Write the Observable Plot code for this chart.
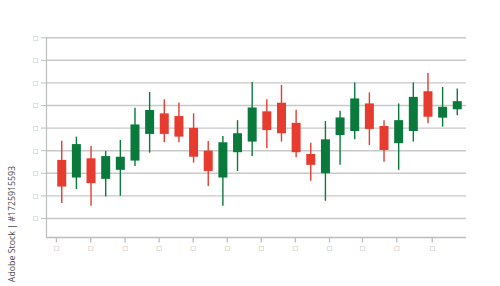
<!DOCTYPE html>
<html>
<head>
<meta charset="utf-8">
<script src="https://cdn.jsdelivr.net/npm/d3@7"></script>
<script src="https://cdn.jsdelivr.net/npm/@observablehq/plot@0.6"></script>
<style>
  html, body { margin: 0; padding: 0; background: #fff; }
  #wrap { position: relative; width: 500px; height: 286px; overflow: hidden; }
  #wm { position: absolute; left: 12px; top: 224px; transform: translate(-50%, -50%) rotate(-90deg);
        font-family: "Open Sans", "DejaVu Sans", sans-serif; font-size: 8.8px; color: #4a4a4a; white-space: nowrap; line-height: 11px; }
</style>
</head>
<body>
<div id="wrap"><div id="chart"></div><div id="wm">Adobe Stock | #1725915593</div></div>
<script>
// Candle values (index = session)
const opens  = [3.57, 2.79, 3.64, 2.73, 3.13, 3.54, 4.72, 5.63, 5.51, 4.99, 3.98, 2.79, 3.91, 4.38, 5.72, 6.10, 5.21, 3.83, 2.98, 4.67, 4.85, 6.07, 5.07, 4.31, 4.85, 6.61, 5.44, 5.81];
const closes = [2.39, 4.27, 2.54, 3.74, 3.71, 5.14, 5.78, 4.72, 4.60, 3.71, 3.08, 4.35, 4.75, 5.89, 4.89, 4.75, 3.91, 3.35, 4.48, 5.45, 6.29, 4.94, 4.01, 5.33, 6.36, 5.48, 5.92, 6.17];
const highs  = [4.42, 4.60, 4.19, 3.97, 4.45, 5.88, 6.58, 6.25, 6.11, 5.63, 4.41, 4.63, 5.33, 7.02, 6.26, 6.89, 5.79, 4.33, 5.29, 5.74, 7.00, 6.56, 5.33, 6.07, 7.00, 7.42, 6.80, 6.73];
const lows   = [1.66, 2.28, 1.54, 1.95, 1.98, 3.30, 3.89, 4.35, 4.35, 3.45, 2.42, 1.54, 3.08, 3.74, 4.08, 4.38, 3.69, 2.65, 1.76, 3.35, 4.48, 4.23, 3.49, 3.13, 4.38, 5.19, 5.04, 5.55];

const yTicks = [1, 2, 3, 4, 5, 6, 7, 8, 9];
const yTickLabels = ["□", "□", "□", "□", "□", "□", "□", "□", "□"];
const xTicks = [-0.36, 1.98, 4.32, 6.65, 8.97, 11.3, 13.62, 15.95, 18.28, 20.53, 22.87, 25.29];
const xTickLabels = ["□", "□", "□", "□", "□", "□", "□", "□", "□", "□", "□", "□"];

const candles = opens.map((o, i) => ({i, open: o, close: closes[i], high: highs[i], low: lows[i]}));
const up = "#0a7a3c", down = "#e63b2f";
const col = d => d.close >= d.open ? up : down;
const yMin = 0.157, xMin = -1.04;

const chart = Plot.plot({
  width: 500,
  height: 286,
  marginTop: 37,
  marginBottom: 49,
  marginLeft: 46,
  marginRight: 34,
  style: {background: "#fff", fontFamily: "DejaVu Sans, sans-serif"},
  x: {type: "linear", domain: [xMin, 27.63]},
  y: {domain: [yMin, 9.01]},
  marks: [
    Plot.gridY(yTicks, {stroke: "#c8c8c8", strokeOpacity: 1, strokeWidth: 1.4}),
    Plot.axisY(yTicks, {tickSize: 5, tickPadding: 3, fontSize: 6, fill: "#9a9a9a", stroke: "#c0c0c0",
      tickFormat: (d, i) => yTickLabels[i], label: null}),
    Plot.axisX(xTicks, {tickSize: 5.5, tickPadding: 3, fontSize: 6, fill: "#9a9a9a", stroke: "#bdbdbd", strokeWidth: 1.3,
      tickFormat: (d, i) => xTickLabels[i], label: null}),
    Plot.ruleY([yMin], {stroke: "#bdbdbd", strokeWidth: 1.3}),
    Plot.ruleX([xMin], {stroke: "#bdbdbd", strokeWidth: 1.2}),
    Plot.ruleX(candles, {x: "i", y1: "low", y2: "high", stroke: col, strokeWidth: 1.4}),
    Plot.ruleX(candles, {x: "i", y1: "open", y2: "close", stroke: col, strokeWidth: 9, strokeLinecap: "butt"})
  ]
});
document.getElementById("chart").appendChild(chart);
</script>
</body>
</html>
